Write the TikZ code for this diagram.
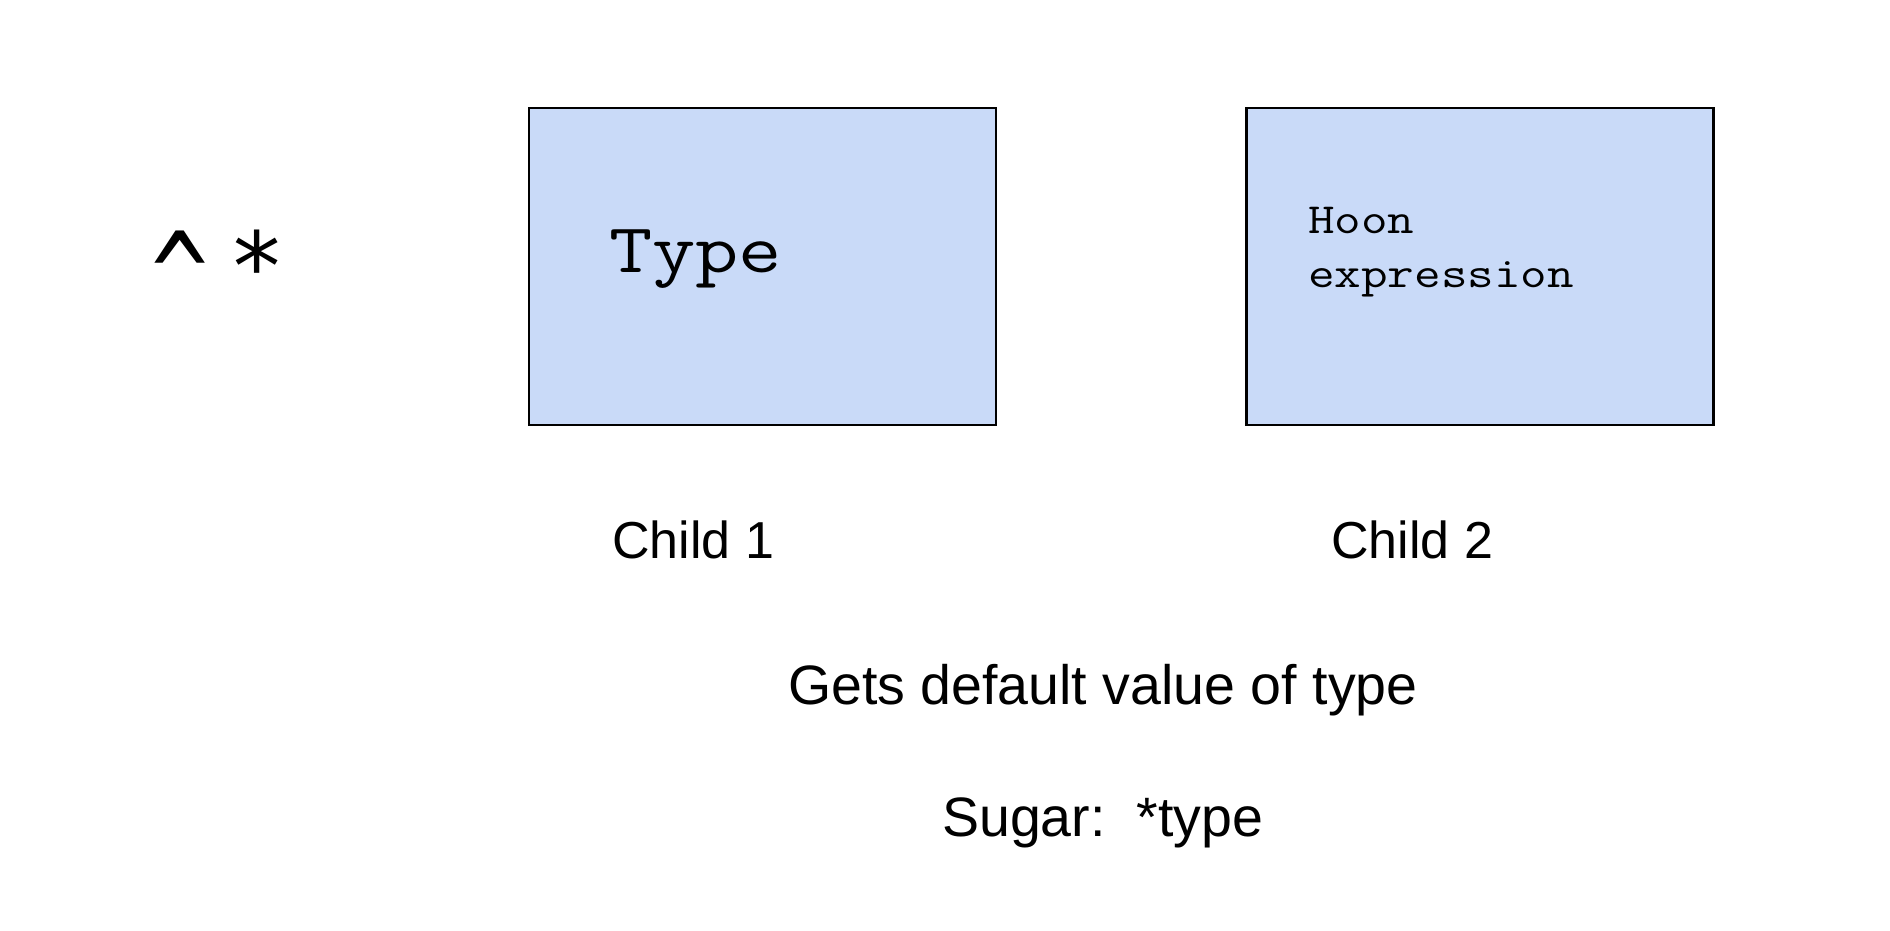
\documentclass[tikz,border=0pt]{standalone}
\usepackage{fontspec}
\usepackage{graphicx}
\setmainfont{Liberation Sans}
\newfontfamily\cour[FakeStretch=1.2]{Latin Modern Mono}
\newfontfamily\dvmono{DejaVu Sans Mono}
\definecolor{boxblue}{HTML}{C9DAF8}
\begin{document}
\begin{tikzpicture}[x=1pt,y=-1pt,
  childbox/.style={draw=black, line width=2.5pt, fill=boxblue, rectangle, minimum width=467pt, minimum height=317pt, inner sep=0pt},
  label/.style={anchor=base west, inner sep=0pt, font=\fontsize{52}{52}\selectfont},
  biglabel/.style={anchor=base west, inner sep=0pt, font=\fontsize{55.5}{55.5}\selectfont},
  bigmono/.style={anchor=base west, inner sep=0pt, font=\cour\fontsize{70}{70}\selectfont},
  smallmono/.style={anchor=base west, inner sep=0pt, align=left, font=\cour\fontsize{43}{54}\selectfont},
  rune/.style={anchor=base west, inner sep=0pt, font=\dvmono\fontsize{95}{95}\selectfont}]
\useasboundingbox (0,0) rectangle (1890,930);
\fill[white] (0,0) rectangle (1890,930);
\node[childbox] (b1) at (762.5,266.5) {};
\node[childbox] (b2) at (1480,266.5) {};
\node[rune] (r) at (151,300) {\raisebox{-17pt}{\scalebox{1}[1.25]{\textasciicircum}}\hspace{20pt}*};
\node[bigmono] (t1) at (609,272) {Type};
\node[smallmono] (t2) at (1308,287) {Hoon\\expression};
\node[label] (c1) at (612,558) {Child 1};
\node[label] (c2) at (1331,558) {Child 2};
\node[biglabel] (g) at (788,704) {Gets default value of type};
\node[biglabel] (s) at (942,836) {Sugar:\ \ *type};
\end{tikzpicture}
\end{document}
